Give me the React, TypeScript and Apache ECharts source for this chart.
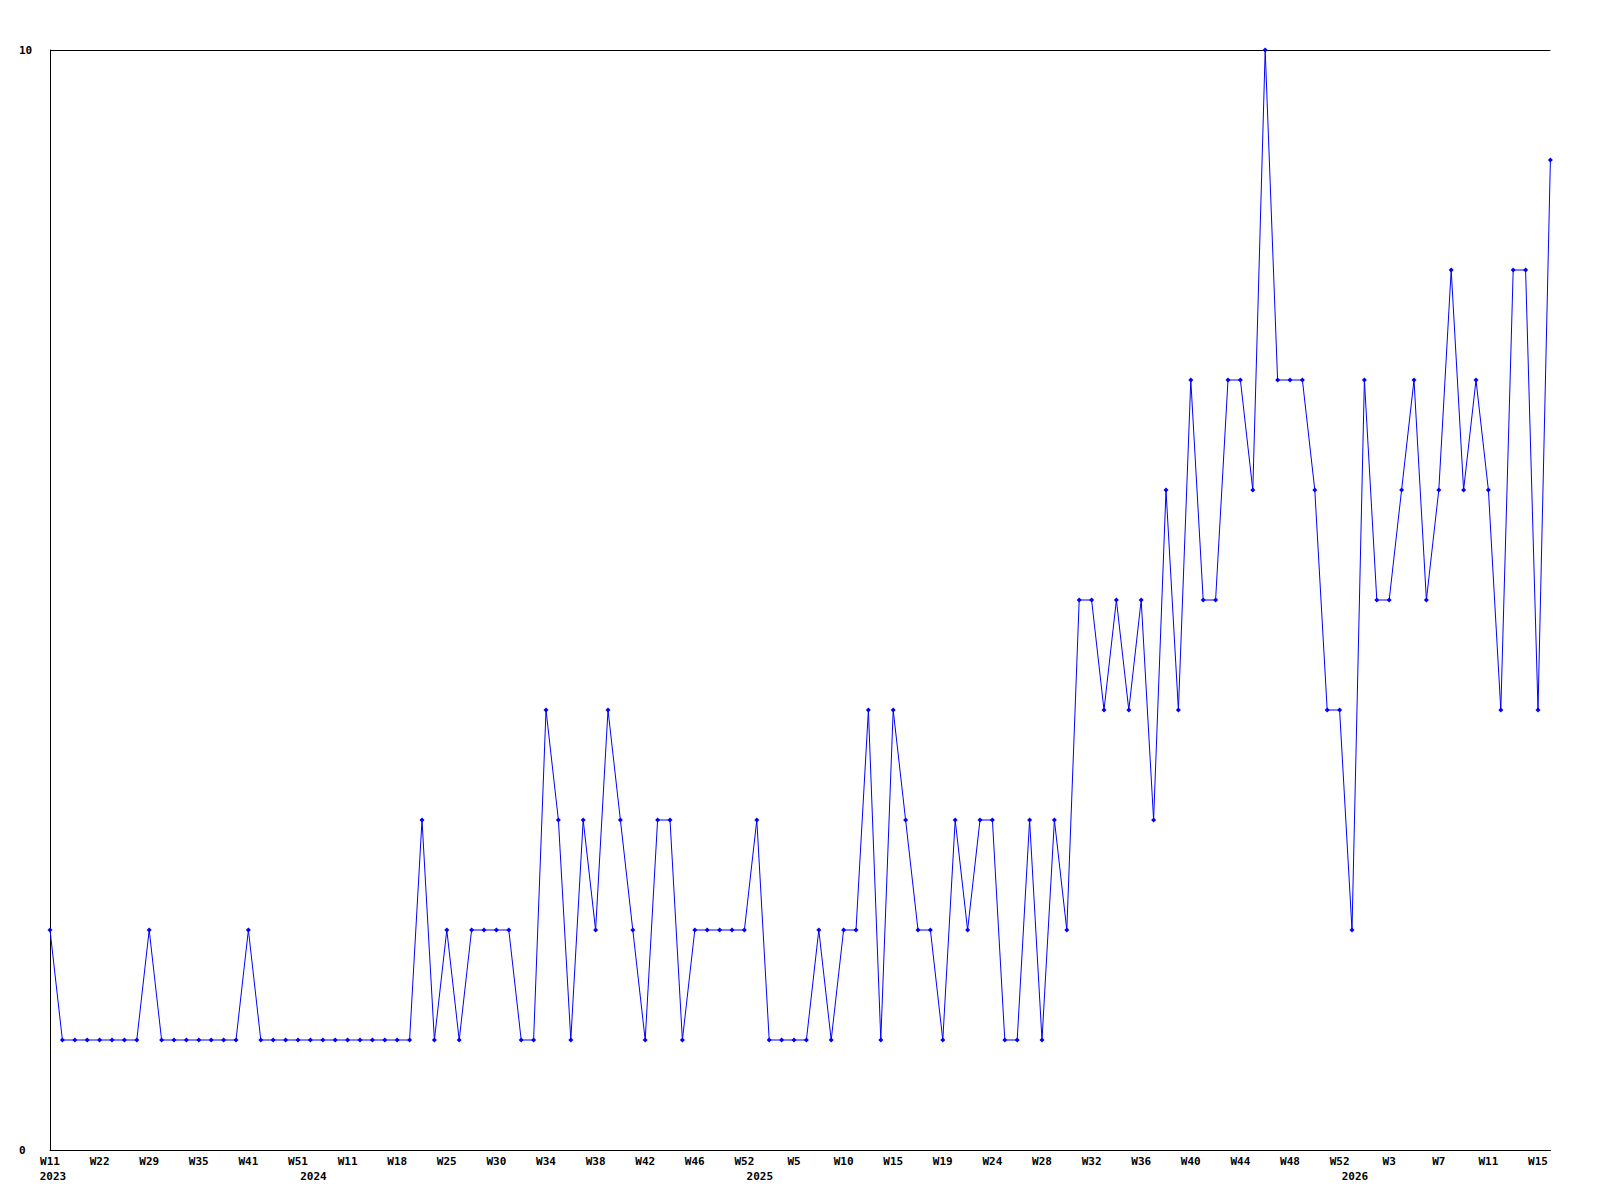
import React, { useEffect, useRef } from "react";
import * as echarts from "echarts";

// Weekly counts, one per data point (left to right)
const values: number[] = [
  2, 1, 1, 1, 1, 1, 1, 1, 2, 1,
  1, 1, 1, 1, 1, 1, 2, 1, 1, 1,
  1, 1, 1, 1, 1, 1, 1, 1, 1, 1,
  3, 1, 2, 1, 2, 2, 2, 2, 1, 1,
  4, 3, 1, 3, 2, 4, 3, 2, 1, 3,
  3, 1, 2, 2, 2, 2, 2, 3, 1, 1,
  1, 1, 2, 1, 2, 2, 4, 1, 4, 3,
  2, 2, 1, 3, 2, 3, 3, 1, 1, 3,
  1, 3, 2, 5, 5, 4, 5, 4, 5, 3,
  6, 4, 7, 5, 5, 7, 7, 6, 10, 7,
  7, 7, 6, 4, 4, 2, 7, 5, 5, 6,
  7, 5, 6, 8, 6, 7, 6, 4, 8, 8,
  4, 9,
];

// Week tick labels, shown on every 4th data point
const weekTicks: string[] = [
  "W11", "W22", "W29", "W35", "W41", "W51", "W11", "W18", "W25", "W30",
  "W34", "W38", "W42", "W46", "W52", "W5", "W10", "W15", "W19", "W24",
  "W28", "W32", "W36", "W40", "W44", "W48", "W52", "W3", "W7", "W11",
  "W15",
];
const tickStep = 4;

// Year labels and the data point where each year starts
const years: string[] = ["2023", "2024", "2025", "2026"];
const yearStartIdx: number[] = [0, 21, 57, 105];

const yMin = 0;
const yMax = 10;

const categories: string[] = values.map((_, i) => String(i));

const FONT = "'DejaVu Sans Mono', 'Liberation Mono', monospace";

export default function App() {
  const ref = useRef<HTMLDivElement>(null);

  useEffect(() => {
    if (!ref.current) return;
    const chart = echarts.init(ref.current, undefined, { renderer: "svg" });
    const tokenStyle = {
      color: "#000",
      fontFamily: FONT,
      fontWeight: "bold",
      fontSize: 11,
      lineHeight: 15,
    };
    chart.setOption({
      animation: false,
      backgroundColor: "#ffffff",
      grid: { left: 50, right: 49.6, top: 50, bottom: 50, containLabel: false },
      xAxis: {
        type: "category",
        data: categories,
        boundaryGap: false,
        axisLine: { show: true, lineStyle: { color: "#000", width: 1 } },
        axisTick: { show: false },
        splitLine: { show: false },
        axisLabel: {
          interval: 0,
          margin: 4,
          color: "#000",
          fontFamily: FONT,
          fontWeight: "bold",
          fontSize: 11,
          lineHeight: 15,
          rich: {
            wk: { ...tokenStyle },
            yr: { ...tokenStyle, padding: [0, 0, 0, 6] },
          },
          formatter: (_v: string, index: number) => {
            const w = index % tickStep === 0 ? weekTicks[index / tickStep] || "" : "";
            const yi = yearStartIdx.indexOf(index);
            const y = yi >= 0 ? years[yi] : "";
            if (!w && !y) return "";
            const line1 = w ? "{wk|" + w + "}" : "{wk| }";
            const line2 = y ? "{yr|" + y + "}" : "";
            return line1 + "\n" + line2;
          },
        },
      },
      yAxis: {
        type: "value",
        min: yMin,
        max: yMax,
        interval: 10,
        axisLine: { show: true, lineStyle: { color: "#000", width: 1 } },
        axisTick: { show: false },
        splitLine: { show: true, lineStyle: { color: "#000", width: 1 } },
        axisLabel: {
          color: "#000",
          fontFamily: FONT,
          fontWeight: "bold",
          fontSize: 11,
          align: "left",
          margin: 31,
        },
      },
      series: [
        {
          type: "line",
          data: values,
          symbol: "diamond",
          symbolSize: 5,
          showAllSymbol: true,
          lineStyle: { color: "#0000ff", width: 1 },
          itemStyle: { color: "#0000ff" },
        },
      ],
    });
    return () => chart.dispose();
  }, []);

  return (
    <div
      ref={ref}
      style={{ position: "fixed", left: 0, top: 0, width: 1600, height: 1200, background: "#fff" }}
    />
  );
}
